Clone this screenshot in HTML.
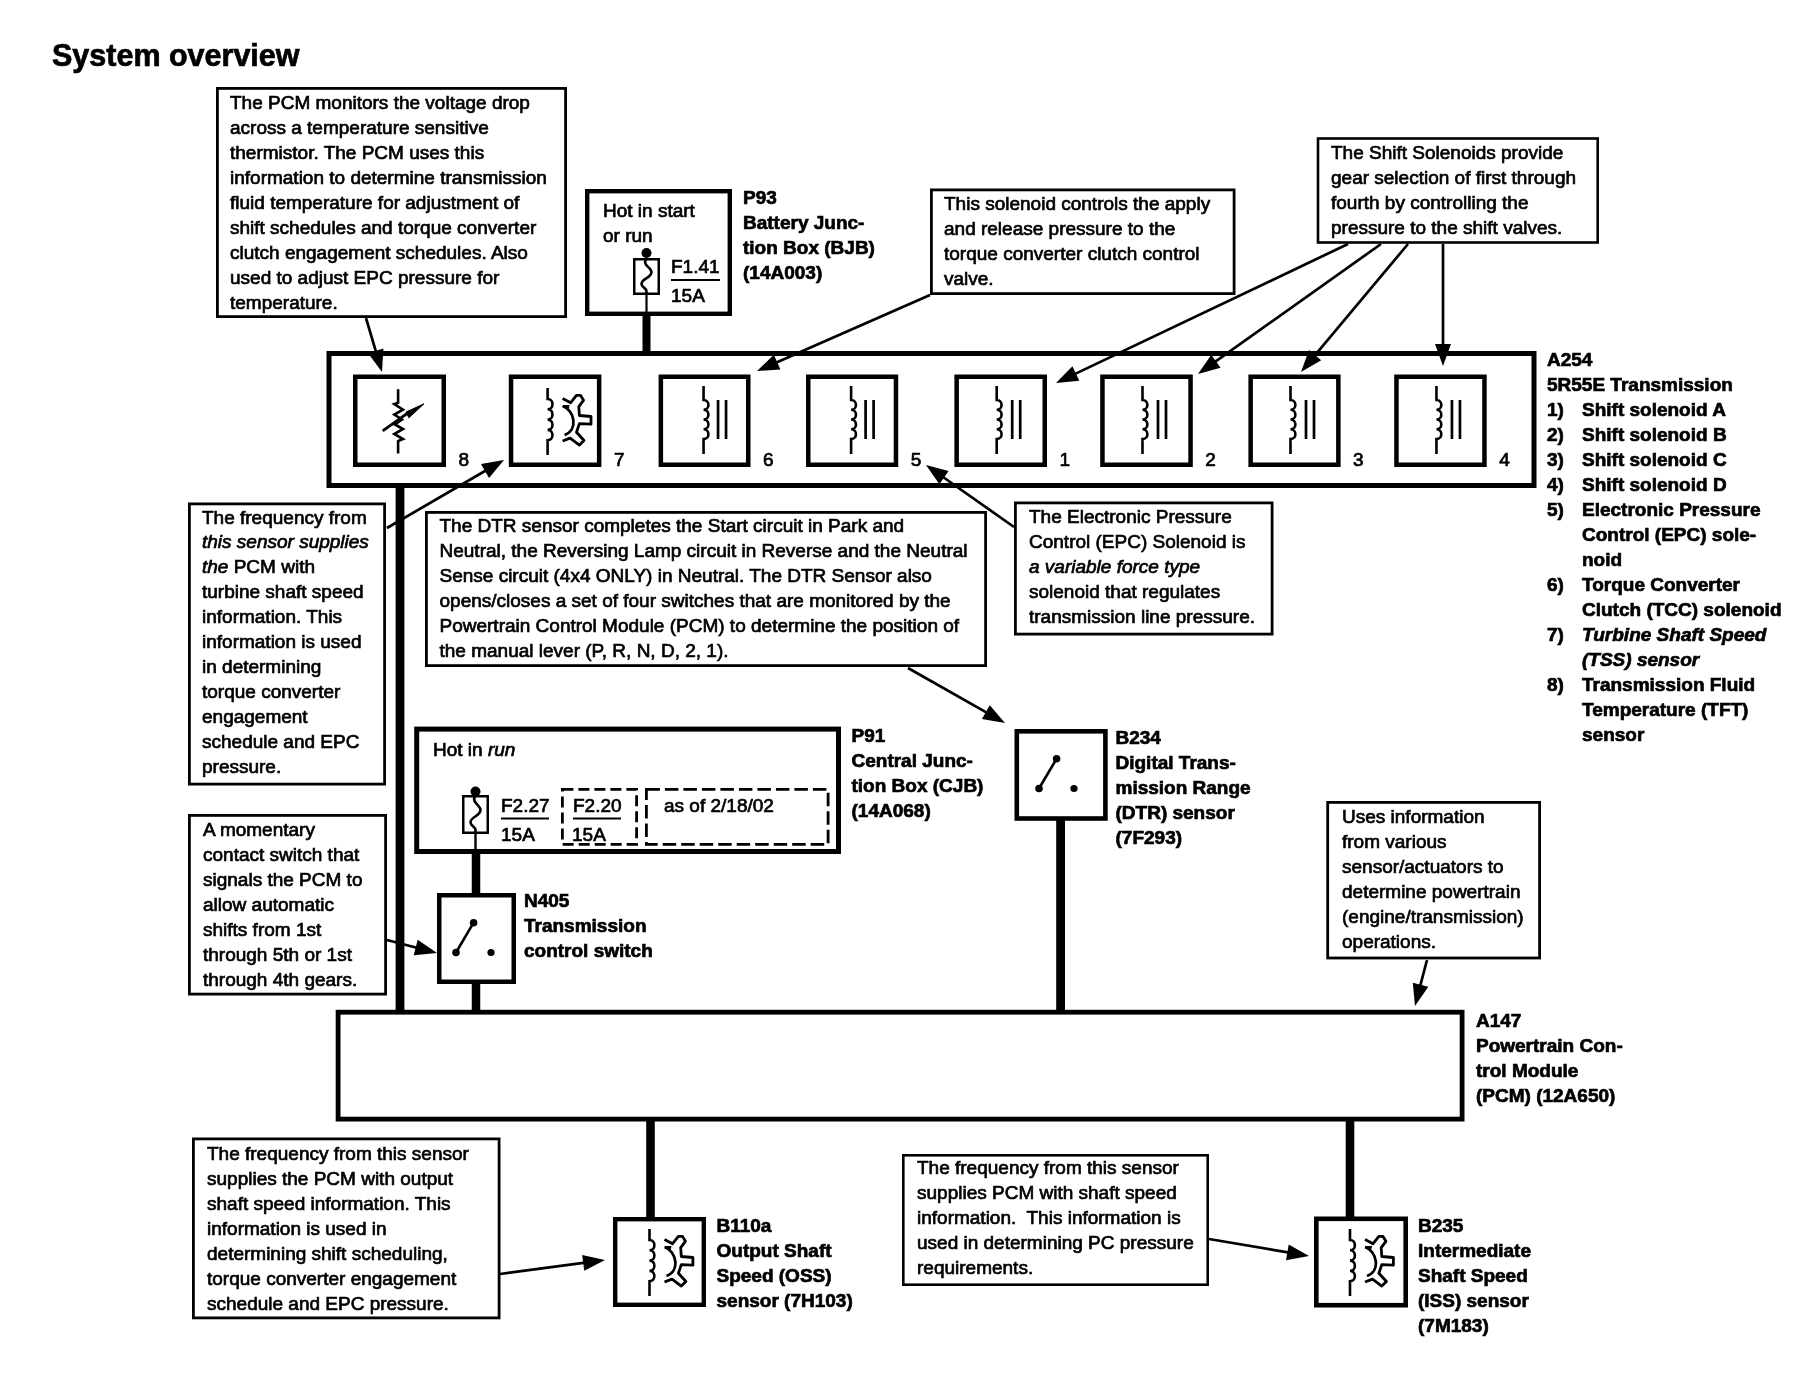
<!DOCTYPE html>
<html><head><meta charset="utf-8"><title>System overview</title>
<style>
html,body{margin:0;padding:0;background:#fff;}
body{width:1814px;height:1376px;overflow:hidden;}
svg{display:block;}
text{font-family:"Liberation Sans", sans-serif;font-size:19px;fill:#000;stroke:#000;stroke-width:0.7px;white-space:pre;}
svg{will-change:transform;}
</style></head><body>
<svg width="1814" height="1376" viewBox="0 0 1814 1376">
<rect width="1814" height="1376" fill="#fff"/>
<text x="52" y="66" style="font-weight:bold;font-size:30.5px">System overview</text>
<rect x="217.4" y="88.4" width="348.2" height="228.2" fill="none" stroke="#000" stroke-width="2.8"/>
<text x="230" y="108.5">The PCM monitors the voltage drop</text>
<text x="230" y="133.5">across a temperature sensitive</text>
<text x="230" y="158.5">thermistor. The PCM uses this</text>
<text x="230" y="183.5">information to determine transmission</text>
<text x="230" y="208.5">fluid temperature for adjustment of</text>
<text x="230" y="233.5">shift schedules and torque converter</text>
<text x="230" y="258.5">clutch engagement schedules. Also</text>
<text x="230" y="283.5">used to adjust EPC pressure for</text>
<text x="230" y="308.5">temperature.</text>
<rect x="587.2" y="191.2" width="142.6" height="122.6" fill="none" stroke="#000" stroke-width="4.4"/>
<text x="603" y="217">Hot in start</text>
<text x="603" y="242">or run</text>
<rect x="634.25" y="259.25" width="24.5" height="34.5" fill="none" stroke="#000" stroke-width="2.5"/>
<circle cx="646.5" cy="253" r="5" fill="#000"/>
<path d="M646.5,258 C641.5,265.4 651.5,267.25 651.5,272.06 C651.5,278.35 641.5,278.35 641.5,283.9 C641.5,287.6 646.5,287.6 646.5,291.3 L646.5,295" fill="none" stroke="#000" stroke-width="2.6"/>
<line x1="646.5" y1="295" x2="646.5" y2="313" stroke="#000" stroke-width="2.2"/>
<text x="671" y="273">F1.41</text>
<line x1="671" y1="280" x2="720" y2="280" stroke="#000" stroke-width="2"/>
<text x="671" y="302">15A</text>
<text x="743" y="203.5" style="font-weight:bold">P93</text>
<text x="743" y="228.5" style="font-weight:bold">Battery Junc-</text>
<text x="743" y="253.5" style="font-weight:bold">tion Box (BJB)</text>
<text x="743" y="278.5" style="font-weight:bold">(14A003)</text>
<rect x="642.5" y="314" width="8" height="41" fill="#000"/>
<rect x="931.4" y="189.9" width="302.7" height="103.7" fill="none" stroke="#000" stroke-width="2.8"/>
<text x="944" y="210">This solenoid controls the apply</text>
<text x="944" y="235">and release pressure to the</text>
<text x="944" y="260">torque converter clutch control</text>
<text x="944" y="285">valve.</text>
<rect x="1318.0" y="138.5" width="279.69999999999993" height="104.00000000000003" fill="none" stroke="#000" stroke-width="2.6"/>
<text x="1331" y="159">The Shift Solenoids provide</text>
<text x="1331" y="184">gear selection of first through</text>
<text x="1331" y="209">fourth by controlling the</text>
<text x="1331" y="234">pressure to the shift valves.</text>
<rect x="329.0" y="353.5" width="1205.0" height="132" fill="none" stroke="#000" stroke-width="5"/>
<rect x="355.25" y="376.75" width="88.5" height="88.0" fill="none" stroke="#000" stroke-width="4.5"/>
<text x="458.5" y="465.5">8</text>
<path d="M398.1,389.3 L398.1,402.7 L394.3,404.0 L403.0,409.7 L394.3,414.5 L402.0,419.5 L395.0,424.5 L403.0,429.0 L394.3,434.0 L403.0,439.0 L398.1,441.0 L398.1,453.5" fill="none" stroke="#000" stroke-width="2.6" stroke-linejoin="miter"/>
<line x1="382.70000000000005" y1="430.90000000000003" x2="410.1" y2="411.3" stroke="#000" stroke-width="2.8"/>
<polygon points="424.0,403.8 405.90000000000003,412.1 408.90000000000003,417.8" fill="#000" stroke="#000" stroke-width="1" stroke-linejoin="round"/>
<rect x="511.05" y="376.75" width="88.09999999999997" height="88.0" fill="none" stroke="#000" stroke-width="4.5"/>
<text x="613.9" y="465.5">7</text>
<path d="M547.6,388 L547.6,399 C554.1,399 554.1,409.3 547.6,409.3 C554.1,409.3 554.1,419.6 547.6,419.6 C554.1,419.6 554.1,429.90000000000003 547.6,429.90000000000003 C554.1,429.90000000000003 554.1,440.20000000000005 547.6,440.20000000000005 L547.6,455" fill="none" stroke="#000" stroke-width="2.6"/>
<polyline points="562.6,398.6 570.7,402.7 576.5,395.4 580.6,395.4 583.5,400.3 578.8,406.7 579.4,415.5 591.0,416.5 591.0,424.2 579.4,423.6 576.5,432.3 584.0,440.5 579.4,445.1 570.1,438.1 562.6,441.0" fill="none" stroke="#000" stroke-width="2.8" stroke-linejoin="round"/>
<path d="M562.6,406 C574.6,410 578.6,430 564.6,435" fill="none" stroke="#000" stroke-width="2.8"/>
<polygon points="562.6,405 569.6,405 568.6,410" fill="#000"/>
<rect x="660.85" y="376.75" width="87.39999999999998" height="88.0" fill="none" stroke="#000" stroke-width="4.5"/>
<text x="763.0" y="465.5">6</text>
<path d="M703.55,386 L703.55,400 C710.05,400 710.05,409.75 703.55,409.75 C710.05,409.75 710.05,419.5 703.55,419.5 C710.05,419.5 710.05,429.25 703.55,429.25 C710.05,429.25 710.05,439.0 703.55,439.0 L703.55,454" fill="none" stroke="#000" stroke-width="2.6"/>
<line x1="718.05" y1="400" x2="718.05" y2="439" stroke="#000" stroke-width="2.7"/>
<line x1="726.05" y1="400" x2="726.05" y2="439" stroke="#000" stroke-width="2.7"/>
<rect x="808.25" y="376.75" width="87.70000000000005" height="88.0" fill="none" stroke="#000" stroke-width="4.5"/>
<text x="910.7" y="465.5">5</text>
<path d="M851.1,386 L851.1,400 C857.6,400 857.6,409.75 851.1,409.75 C857.6,409.75 857.6,419.5 851.1,419.5 C857.6,419.5 857.6,429.25 851.1,429.25 C857.6,429.25 857.6,439.0 851.1,439.0 L851.1,454" fill="none" stroke="#000" stroke-width="2.6"/>
<line x1="865.6" y1="400" x2="865.6" y2="439" stroke="#000" stroke-width="2.7"/>
<line x1="873.6" y1="400" x2="873.6" y2="439" stroke="#000" stroke-width="2.7"/>
<rect x="956.65" y="376.75" width="88.10000000000002" height="88.0" fill="none" stroke="#000" stroke-width="4.5"/>
<text x="1059.5" y="465.5">1</text>
<path d="M996.7,386 L996.7,400 C1003.2,400 1003.2,409.75 996.7,409.75 C1003.2,409.75 1003.2,419.5 996.7,419.5 C1003.2,419.5 1003.2,429.25 996.7,429.25 C1003.2,429.25 1003.2,439.0 996.7,439.0 L996.7,454" fill="none" stroke="#000" stroke-width="2.6"/>
<line x1="1012.2" y1="400" x2="1012.2" y2="439" stroke="#000" stroke-width="2.7"/>
<line x1="1020.2" y1="400" x2="1020.2" y2="439" stroke="#000" stroke-width="2.7"/>
<rect x="1102.45" y="376.75" width="88.09999999999991" height="88.0" fill="none" stroke="#000" stroke-width="4.5"/>
<text x="1205.3" y="465.5">2</text>
<path d="M1142.5,386 L1142.5,400 C1149.0,400 1149.0,409.75 1142.5,409.75 C1149.0,409.75 1149.0,419.5 1142.5,419.5 C1149.0,419.5 1149.0,429.25 1142.5,429.25 C1149.0,429.25 1149.0,439.0 1142.5,439.0 L1142.5,454" fill="none" stroke="#000" stroke-width="2.6"/>
<line x1="1158.0" y1="400" x2="1158.0" y2="439" stroke="#000" stroke-width="2.7"/>
<line x1="1166.0" y1="400" x2="1166.0" y2="439" stroke="#000" stroke-width="2.7"/>
<rect x="1250.65" y="376.75" width="87.69999999999982" height="88.0" fill="none" stroke="#000" stroke-width="4.5"/>
<text x="1353.1" y="465.5">3</text>
<path d="M1290.5,386 L1290.5,400 C1297.0,400 1297.0,409.75 1290.5,409.75 C1297.0,409.75 1297.0,419.5 1290.5,419.5 C1297.0,419.5 1297.0,429.25 1290.5,429.25 C1297.0,429.25 1297.0,439.0 1290.5,439.0 L1290.5,454" fill="none" stroke="#000" stroke-width="2.6"/>
<line x1="1306.0" y1="400" x2="1306.0" y2="439" stroke="#000" stroke-width="2.7"/>
<line x1="1314.0" y1="400" x2="1314.0" y2="439" stroke="#000" stroke-width="2.7"/>
<rect x="1396.45" y="376.75" width="88.0" height="88.0" fill="none" stroke="#000" stroke-width="4.5"/>
<text x="1499.2" y="465.5">4</text>
<path d="M1436.45,386 L1436.45,400 C1442.95,400 1442.95,409.75 1436.45,409.75 C1442.95,409.75 1442.95,419.5 1436.45,419.5 C1442.95,419.5 1442.95,429.25 1436.45,429.25 C1442.95,429.25 1442.95,439.0 1436.45,439.0 L1436.45,454" fill="none" stroke="#000" stroke-width="2.6"/>
<line x1="1451.95" y1="400" x2="1451.95" y2="439" stroke="#000" stroke-width="2.7"/>
<line x1="1459.95" y1="400" x2="1459.95" y2="439" stroke="#000" stroke-width="2.7"/>
<text x="1547" y="366" style="font-weight:bold">A254</text>
<text x="1547" y="391" style="font-weight:bold">5R55E Transmission</text>
<text x="1547" y="416" style="font-weight:bold">1)</text>
<text x="1582" y="416" style="font-weight:bold">Shift solenoid A</text>
<text x="1547" y="441" style="font-weight:bold">2)</text>
<text x="1582" y="441" style="font-weight:bold">Shift solenoid B</text>
<text x="1547" y="466" style="font-weight:bold">3)</text>
<text x="1582" y="466" style="font-weight:bold">Shift solenoid C</text>
<text x="1547" y="491" style="font-weight:bold">4)</text>
<text x="1582" y="491" style="font-weight:bold">Shift solenoid D</text>
<text x="1547" y="516" style="font-weight:bold">5)</text>
<text x="1582" y="516" style="font-weight:bold">Electronic Pressure</text>
<text x="1582" y="541" style="font-weight:bold">Control (EPC) sole-</text>
<text x="1582" y="566" style="font-weight:bold">noid</text>
<text x="1547" y="591" style="font-weight:bold">6)</text>
<text x="1582" y="591" style="font-weight:bold">Torque Converter</text>
<text x="1582" y="616" style="font-weight:bold">Clutch (TCC) solenoid</text>
<text x="1547" y="641" style="font-weight:bold">7)</text>
<text x="1582" y="641" style="font-weight:bold;font-style:italic">Turbine Shaft Speed</text>
<text x="1582" y="666" style="font-weight:bold;font-style:italic">(TSS) sensor</text>
<text x="1547" y="691" style="font-weight:bold">8)</text>
<text x="1582" y="691" style="font-weight:bold">Transmission Fluid</text>
<text x="1582" y="716" style="font-weight:bold">Temperature (TFT)</text>
<text x="1582" y="741" style="font-weight:bold">sensor</text>
<rect x="189.4" y="503.9" width="195.2" height="280.2" fill="none" stroke="#000" stroke-width="2.8"/>
<text x="202" y="523.5">The frequency from</text>
<text x="202" y="548.4"><tspan font-style="italic">this sensor supplies</tspan></text>
<text x="202" y="573.3"><tspan font-style="italic">the</tspan> PCM with</text>
<text x="202" y="598.2">turbine shaft speed</text>
<text x="202" y="623.1">information. This</text>
<text x="202" y="648.0">information is used</text>
<text x="202" y="672.9">in determining</text>
<text x="202" y="697.8">torque converter</text>
<text x="202" y="722.7">engagement</text>
<text x="202" y="747.6">schedule and EPC</text>
<text x="202" y="772.5">pressure.</text>
<rect x="426.4" y="512.4" width="559.2" height="153.2" fill="none" stroke="#000" stroke-width="2.8"/>
<text x="439.5" y="532">The DTR sensor completes the Start circuit in Park and</text>
<text x="439.5" y="557">Neutral, the Reversing Lamp circuit in Reverse and the Neutral</text>
<text x="439.5" y="582">Sense circuit (4x4 ONLY) in Neutral. The DTR Sensor also</text>
<text x="439.5" y="607">opens/closes a set of four switches that are monitored by the</text>
<text x="439.5" y="632">Powertrain Control Module (PCM) to determine the position of</text>
<text x="439.5" y="657">the manual lever (P, R, N, D, 2, 1).</text>
<rect x="1015.4" y="502.9" width="256.7" height="131.2" fill="none" stroke="#000" stroke-width="2.8"/>
<text x="1029" y="523">The Electronic Pressure</text>
<text x="1029" y="548">Control (EPC) Solenoid is</text>
<text x="1029" y="573"><tspan font-style="italic">a variable force type</tspan></text>
<text x="1029" y="598">solenoid that regulates</text>
<text x="1029" y="623">transmission line pressure.</text>
<rect x="1016.8" y="731.3" width="88.60000000000005" height="87.19999999999996" fill="none" stroke="#000" stroke-width="4.6"/>
<line x1="1056.6" y1="758.7" x2="1039" y2="788.5" stroke="#000" stroke-width="2.6"/>
<circle cx="1056.6" cy="758.7" r="3.8" fill="#000"/>
<circle cx="1039" cy="788.5" r="3.8" fill="#000"/>
<circle cx="1074" cy="788.5" r="3.6" fill="#000"/>
<text x="1115.5" y="744.0" style="font-weight:bold">B234</text>
<text x="1115.5" y="768.9" style="font-weight:bold">Digital Trans-</text>
<text x="1115.5" y="793.8" style="font-weight:bold">mission Range</text>
<text x="1115.5" y="818.7" style="font-weight:bold">(DTR) sensor</text>
<text x="1115.5" y="843.6" style="font-weight:bold">(7F293)</text>
<rect x="1056.1999999999998" y="818" width="8.8" height="195" fill="#000"/>
<rect x="416.7" y="729.1" width="421.8" height="122.39999999999998" fill="none" stroke="#000" stroke-width="5"/>
<text x="433" y="756">Hot in <tspan font-style="italic">run</tspan></text>
<rect x="463.25" y="796.25" width="24.5" height="36.5" fill="none" stroke="#000" stroke-width="2.5"/>
<circle cx="475.5" cy="791.5" r="5" fill="#000"/>
<path d="M475.5,795 C470.5,802.8 480.5,804.75 480.5,809.82 C480.5,816.45 470.5,816.45 470.5,822.3 C470.5,826.2 475.5,826.2 475.5,830.1 L475.5,834" fill="none" stroke="#000" stroke-width="2.6"/>
<line x1="475.5" y1="834" x2="475.5" y2="851" stroke="#000" stroke-width="2.4"/>
<text x="501" y="812">F2.27</text>
<line x1="501" y1="818.5" x2="549" y2="818.5" stroke="#000" stroke-width="2.2"/>
<text x="501" y="841">15A</text>
<rect x="562.4" y="789.4" width="74.2" height="54.90000000000005" fill="none" stroke="#000" stroke-width="2.8" stroke-dasharray="11,5"/>
<text x="573" y="812">F2.20</text>
<line x1="573" y1="818.5" x2="621" y2="818.5" stroke="#000" stroke-width="2.2"/>
<text x="572" y="841">15A</text>
<rect x="646.4" y="789.4" width="181.7" height="54.90000000000005" fill="none" stroke="#000" stroke-width="2.8" stroke-dasharray="13.5,5"/>
<text x="664" y="811.5">as of 2/18/02</text>
<text x="851.5" y="742" style="font-weight:bold">P91</text>
<text x="851.5" y="767" style="font-weight:bold">Central Junc-</text>
<text x="851.5" y="792" style="font-weight:bold">tion Box (CJB)</text>
<text x="851.5" y="817" style="font-weight:bold">(14A068)</text>
<rect x="471.75" y="852" width="8.5" height="43" fill="#000"/>
<rect x="189.4" y="815.4" width="196.2" height="178.7" fill="none" stroke="#000" stroke-width="2.8"/>
<text x="203" y="835.5">A momentary</text>
<text x="203" y="860.5">contact switch that</text>
<text x="203" y="885.5">signals the PCM to</text>
<text x="203" y="910.5">allow automatic</text>
<text x="203" y="935.5">shifts from 1st</text>
<text x="203" y="960.5">through 5th or 1st</text>
<text x="203" y="985.5">through 4th gears.</text>
<rect x="439.25" y="895.25" width="74.5" height="86.5" fill="none" stroke="#000" stroke-width="4.5"/>
<line x1="473.6" y1="922.7" x2="456" y2="952.5" stroke="#000" stroke-width="2.6"/>
<circle cx="473.6" cy="922.7" r="3.8" fill="#000"/>
<circle cx="456" cy="952.5" r="3.8" fill="#000"/>
<circle cx="491" cy="952.5" r="3.6" fill="#000"/>
<text x="524" y="907" style="font-weight:bold">N405</text>
<text x="524" y="932" style="font-weight:bold">Transmission</text>
<text x="524" y="957" style="font-weight:bold">control switch</text>
<rect x="471.75" y="981" width="8.5" height="32" fill="#000"/>
<rect x="395.6" y="485" width="8.8" height="528" fill="#000"/>
<rect x="1327.7" y="802.4" width="211.90000000000003" height="155.59999999999997" fill="none" stroke="#000" stroke-width="2.8"/>
<text x="1342" y="822.5">Uses information</text>
<text x="1342" y="847.5">from various</text>
<text x="1342" y="872.5">sensor/actuators to</text>
<text x="1342" y="897.5">determine powertrain</text>
<text x="1342" y="922.5">(engine/transmission)</text>
<text x="1342" y="947.5">operations.</text>
<rect x="338.09999999999997" y="1012.1999999999999" width="1124.0" height="106.90000000000005" fill="none" stroke="#000" stroke-width="4.8"/>
<text x="1476" y="1027" style="font-weight:bold">A147</text>
<text x="1476" y="1052" style="font-weight:bold">Powertrain Con-</text>
<text x="1476" y="1077" style="font-weight:bold">trol Module</text>
<text x="1476" y="1102" style="font-weight:bold">(PCM) (12A650)</text>
<rect x="193.4" y="1138.9" width="305.7" height="178.99999999999994" fill="none" stroke="#000" stroke-width="2.8"/>
<text x="207" y="1159.6">The frequency from this sensor</text>
<text x="207" y="1184.6">supplies the PCM with output</text>
<text x="207" y="1209.6">shaft speed information. This</text>
<text x="207" y="1234.6">information is used in</text>
<text x="207" y="1259.6">determining shift scheduling,</text>
<text x="207" y="1284.6">torque converter engagement</text>
<text x="207" y="1309.6">schedule and EPC pressure.</text>
<rect x="615.2" y="1219.2" width="88.6" height="85.6" fill="none" stroke="#000" stroke-width="4.4"/>
<path d="M649.5,1229 L649.5,1240 C656.0,1240 656.0,1250.3 649.5,1250.3 C656.0,1250.3 656.0,1260.6 649.5,1260.6 C656.0,1260.6 656.0,1270.8999999999999 649.5,1270.8999999999999 C656.0,1270.8999999999999 656.0,1281.1999999999998 649.5,1281.1999999999998 L649.5,1296" fill="none" stroke="#000" stroke-width="2.6"/>
<polyline points="664.5,1239.6 672.6,1243.7 678.4,1236.4 682.5,1236.4 685.4,1241.3 680.7,1247.7 681.3,1256.5 692.9,1257.5 692.9,1265.2 681.3,1264.6 678.4,1273.3 685.9,1281.5 681.3,1286.1 672.0,1279.1 664.5,1282.0" fill="none" stroke="#000" stroke-width="2.8" stroke-linejoin="round"/>
<path d="M664.5,1247 C676.5,1251 680.5,1271 666.5,1276" fill="none" stroke="#000" stroke-width="2.8"/>
<polygon points="664.5,1246 671.5,1246 670.5,1251" fill="#000"/>
<text x="716.5" y="1231.5" style="font-weight:bold">B110a</text>
<text x="716.5" y="1256.5" style="font-weight:bold">Output Shaft</text>
<text x="716.5" y="1281.5" style="font-weight:bold">Speed (OSS)</text>
<text x="716.5" y="1306.5" style="font-weight:bold">sensor (7H103)</text>
<rect x="646.2" y="1118" width="8.6" height="101" fill="#000"/>
<rect x="903.3" y="1155.3" width="304.4" height="129.4" fill="none" stroke="#000" stroke-width="2.6"/>
<text x="917" y="1174">The frequency from this sensor</text>
<text x="917" y="1199">supplies PCM with shaft speed</text>
<text x="917" y="1224">information.  This information is</text>
<text x="917" y="1249">used in determining PC pressure</text>
<text x="917" y="1274">requirements.</text>
<rect x="1316.3" y="1218.8" width="89.4" height="86.4" fill="none" stroke="#000" stroke-width="4.6"/>
<path d="M1350,1229 L1350,1240 C1356.5,1240 1356.5,1250.3 1350,1250.3 C1356.5,1250.3 1356.5,1260.6 1350,1260.6 C1356.5,1260.6 1356.5,1270.8999999999999 1350,1270.8999999999999 C1356.5,1270.8999999999999 1356.5,1281.1999999999998 1350,1281.1999999999998 L1350,1296" fill="none" stroke="#000" stroke-width="2.6"/>
<polyline points="1365.0,1239.6 1373.1,1243.7 1378.9,1236.4 1383.0,1236.4 1385.9,1241.3 1381.2,1247.7 1381.8,1256.5 1393.4,1257.5 1393.4,1265.2 1381.8,1264.6 1378.9,1273.3 1386.4,1281.5 1381.8,1286.1 1372.5,1279.1 1365.0,1282.0" fill="none" stroke="#000" stroke-width="2.8" stroke-linejoin="round"/>
<path d="M1365,1247 C1377,1251 1381,1271 1367,1276" fill="none" stroke="#000" stroke-width="2.8"/>
<polygon points="1365,1246 1372,1246 1371,1251" fill="#000"/>
<text x="1418" y="1231.5" style="font-weight:bold">B235</text>
<text x="1418" y="1256.5" style="font-weight:bold">Intermediate</text>
<text x="1418" y="1281.5" style="font-weight:bold">Shaft Speed</text>
<text x="1418" y="1306.5" style="font-weight:bold">(ISS) sensor</text>
<text x="1418" y="1331.5" style="font-weight:bold">(7M183)</text>
<rect x="1345.7" y="1118" width="8.6" height="101" fill="#000"/>
<line x1="366" y1="318" x2="376.3" y2="352.8" stroke="#000" stroke-width="2.7"/>
<polygon points="382.0,372.0 368.1,353.2 383.4,348.6" fill="#000"/>
<line x1="930" y1="295" x2="775.3" y2="363.0" stroke="#000" stroke-width="2.7"/>
<polygon points="757.0,371.0 773.9,354.8 780.4,369.5" fill="#000"/>
<line x1="1348" y1="244" x2="1074.1" y2="374.4" stroke="#000" stroke-width="2.7"/>
<polygon points="1056.0,383.0 1072.4,366.3 1079.3,380.8" fill="#000"/>
<line x1="1381" y1="244" x2="1214.3" y2="362.4" stroke="#000" stroke-width="2.7"/>
<polygon points="1198.0,374.0 1211.3,354.7 1220.6,367.8" fill="#000"/>
<line x1="1408" y1="244" x2="1313.8" y2="356.7" stroke="#000" stroke-width="2.7"/>
<polygon points="1301.0,372.0 1309.0,350.0 1321.2,360.3" fill="#000"/>
<line x1="1443" y1="244" x2="1443.0" y2="346.0" stroke="#000" stroke-width="2.7"/>
<polygon points="1443.0,366.0 1435.0,344.0 1451.0,344.0" fill="#000"/>
<line x1="387" y1="528" x2="486.7" y2="470.0" stroke="#000" stroke-width="2.7"/>
<polygon points="504.0,460.0 489.0,478.0 481.0,464.1" fill="#000"/>
<line x1="1014" y1="527" x2="942.3" y2="476.5" stroke="#000" stroke-width="2.7"/>
<polygon points="926.0,465.0 948.6,471.1 939.4,484.2" fill="#000"/>
<line x1="908" y1="668" x2="987.6" y2="713.1" stroke="#000" stroke-width="2.7"/>
<polygon points="1005.0,723.0 981.9,719.1 989.8,705.2" fill="#000"/>
<line x1="387" y1="940" x2="417.6" y2="948.0" stroke="#000" stroke-width="2.7"/>
<polygon points="437.0,953.0 413.7,955.2 417.7,939.7" fill="#000"/>
<line x1="1427" y1="960" x2="1420.0" y2="986.6" stroke="#000" stroke-width="2.7"/>
<polygon points="1415.0,1006.0 1412.8,982.7 1428.3,986.7" fill="#000"/>
<line x1="500" y1="1274" x2="585.2" y2="1262.6" stroke="#000" stroke-width="2.7"/>
<polygon points="605.0,1260.0 584.3,1270.8 582.1,1255.0" fill="#000"/>
<line x1="1209" y1="1239" x2="1289.3" y2="1252.6" stroke="#000" stroke-width="2.7"/>
<polygon points="1309.0,1256.0 1286.0,1260.2 1288.7,1244.4" fill="#000"/>
</svg>
</body></html>
